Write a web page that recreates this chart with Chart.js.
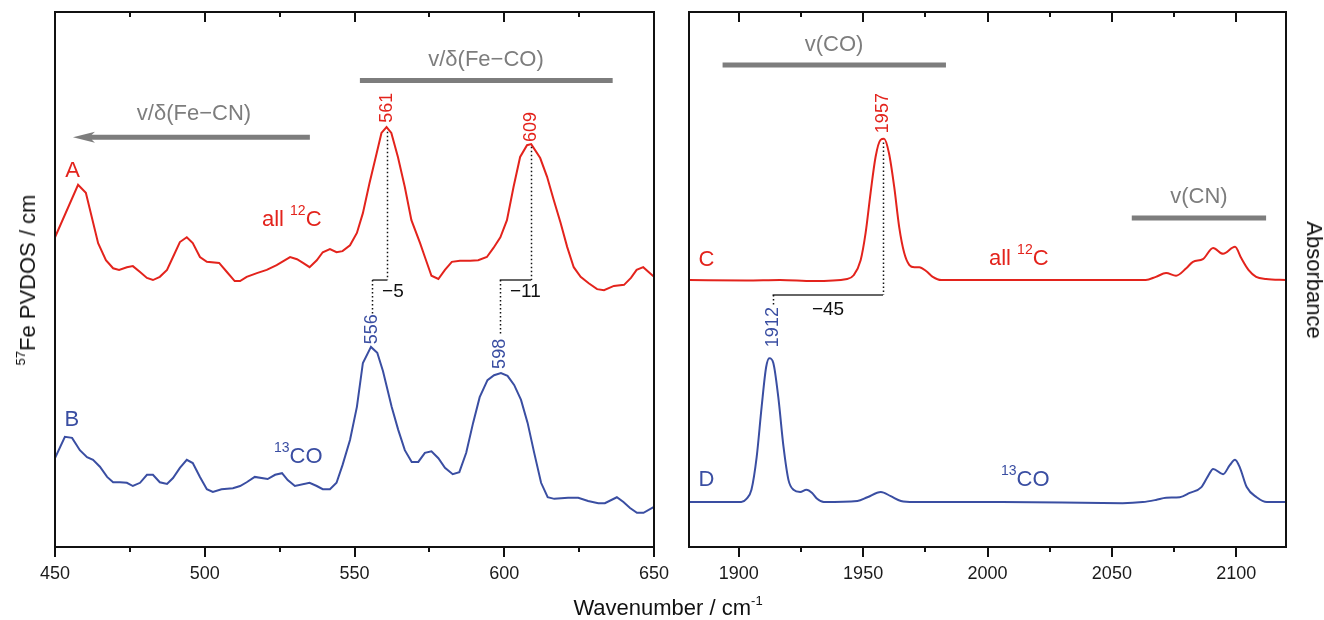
<!DOCTYPE html>
<html>
<head>
<meta charset="utf-8">
<title>57Fe PVDOS and IR spectra</title>
<script src="https://cdn.jsdelivr.net/npm/chart.js@4.4.0/dist/chart.umd.min.js"></script>
<style>
    body { margin: 0; background: #fff; width: 1324px; height: 620px; overflow: hidden; position: relative;
           font-family: 'Liberation Sans', Arial, Helvetica, sans-serif; }
    canvas { position: absolute; top: 0; }
    #left-chart { left: 0; }
    #right-chart { left: 670px; }
    .axis-title { position: absolute; font-size: 22px; color: #111; white-space: nowrap; line-height: 1; }
    .axis-title sup { font-size: 13px; line-height: 0; position: relative; top: -0.15em; vertical-align: super; }
</style>
</head>
<body>
<canvas id="left-chart" width="680" height="620"></canvas>
<canvas id="right-chart" width="654" height="620"></canvas>
<div class="axis-title" style="left:28px; top:280px; transform: translate(-50%,-50%) rotate(-90deg);"><sup>57</sup>Fe PVDOS / cm</div>
<div class="axis-title" style="left:1314px; top:280px; transform: translate(-50%,-50%) rotate(90deg);">Absorbance</div>
<div class="axis-title" style="left:668px; top:608px; transform: translate(-50%,-50%);">Wavenumber / cm<sup>-1</sup></div>
<script>
// Colours and font
const RED = '#e3231c';
const BLUE = '#3a4ea2';
const GREY = '#7d7d7d';
const FONT = "'Liberation Sans', Arial, Helvetica, sans-serif";

// Tick labels
const leftTicks = [450, 500, 550, 600, 650];
const rightTicks = [1900, 1950, 2000, 2050, 2100];

// Spectrum A: 57Fe PVDOS, all 12C
const specAx = [450, 457.7, 460.3, 464.4, 467, 469.4, 471.4, 474, 476, 478.4, 480.7, 482.7, 485, 487.4, 489.4, 491.7, 494, 496, 498.4, 500.7, 504.8, 507.4, 510, 511.8, 514, 517.4, 520.7, 524, 528.5, 530.8, 532.8, 535, 537.4, 539.4, 541.8, 544, 546, 548.5, 550.8, 552.8, 555, 557.4, 559, 560.7, 562.3, 564.5, 566.8, 569, 571.9, 573.5, 575.7, 578, 580.2, 582.5, 585.2, 588.6, 591.3, 594.2, 596.4, 598.7, 600.9, 603.1, 605.3, 607.6, 609, 612, 614.3, 616.5, 618.8, 621, 623.2, 625.5, 628.2, 631, 633.3, 636.6, 640, 642.3, 644.2, 646.4, 648.2, 650];
const specAy = [57.9, 67.7, 66.2, 56.8, 53.6, 52.1, 51.8, 52.3, 52.5, 51.4, 50.3, 49.9, 50.5, 51.8, 54.2, 57.0, 57.9, 56.8, 54.2, 53.3, 53.1, 51.4, 49.7, 49.7, 50.5, 51.2, 51.8, 52.7, 54.2, 53.8, 53.1, 52.3, 53.6, 55.1, 55.7, 55.1, 55.3, 56.4, 58.7, 62.4, 68.0, 73.6, 77.4, 78.5, 77.4, 72.9, 67.3, 61.1, 56.8, 54.2, 50.7, 50.1, 51.8, 53.3, 53.5, 53.5, 53.6, 54.2, 55.9, 57.9, 61.1, 67.3, 72.9, 75.1, 75.3, 72.7, 69.2, 64.9, 60.6, 56.1, 52.3, 50.5, 49.3, 48.2, 48.0, 48.8, 49.0, 50.3, 51.8, 52.3, 51.4, 50.5];

// Spectrum B: 57Fe PVDOS, 13CO
const specBx = [450, 453.3, 455.7, 458.3, 460.7, 462.7, 465, 467.4, 469.4, 471.7, 474, 476, 478.4, 480.7, 482.7, 485, 487.4, 489.4, 491.7, 494, 496, 498.4, 500.7, 502.7, 505.6, 509.4, 511.8, 514, 516.7, 521, 523.5, 525.8, 527.7, 530.1, 535, 537.4, 539.4, 541.8, 544, 546, 548.5, 550.8, 552.8, 555.5, 557.6, 559.5, 562.4, 564.6, 566.8, 569.1, 571.3, 573.5, 575.7, 578, 580.2, 582.8, 585, 587.3, 589.6, 591.8, 594.4, 596.6, 598.9, 601.1, 603.3, 605.6, 607.8, 610, 612.3, 614.5, 616.7, 621.3, 624.7, 628, 631.4, 633.6, 637.6, 639.8, 642, 644.3, 646.5, 650];
const specBy = [16.6, 20.6, 20.4, 18.1, 16.8, 16.3, 15.0, 13.1, 12.1, 12.1, 12.0, 11.4, 12.0, 13.5, 13.5, 12.1, 11.8, 12.9, 14.8, 16.3, 15.7, 13.1, 10.8, 10.3, 10.8, 11.0, 11.4, 12.1, 13.1, 12.7, 13.5, 13.8, 12.5, 11.4, 12.0, 11.4, 10.8, 10.8, 12.0, 15.3, 20.0, 26.2, 34.4, 37.4, 36.3, 32.9, 26.2, 21.9, 18.1, 15.9, 15.9, 17.6, 17.9, 16.6, 14.8, 13.6, 14.0, 17.6, 23.2, 28.0, 31.2, 32.1, 32.5, 32.0, 30.3, 27.5, 23.2, 17.6, 12.0, 9.3, 9.0, 9.2, 9.2, 8.6, 8.2, 8.2, 9.3, 8.4, 7.3, 6.4, 6.4, 7.5];

// Spectrum C: IR absorbance, all 12C
const specCx = [1880, 1903, 1916.6, 1930, 1943.6, 1946.2, 1949, 1951, 1953, 1955, 1957, 1958.4, 1960.4, 1962.5, 1964.5, 1966.5, 1968.6, 1970.6, 1972.6, 1975.3, 1978, 1981.4, 2005.7, 2063.6, 2067.7, 2071.8, 2075.8, 2079.9, 2082.6, 2086.6, 2090.7, 2094.7, 2099.5, 2102, 2104.9, 2108, 2112, 2120];
const specCy = [49.9, 49.8, 49.9, 49.7, 50.1, 50.8, 53.6, 58.7, 66.2, 72.9, 76.1, 76.3, 73.6, 67.3, 59.8, 55.0, 52.7, 52.3, 52.3, 51.6, 50.5, 49.9, 49.9, 49.9, 50.5, 51.2, 50.7, 52.1, 53.3, 53.8, 55.9, 54.8, 56.1, 54.0, 51.8, 50.5, 50.1, 49.9];

// Spectrum D: IR absorbance, 13CO
const specDx = [1880, 1901, 1903.1, 1905.1, 1907.2, 1909.2, 1911, 1912.3, 1913.9, 1915.9, 1918, 1920, 1922, 1924.7, 1927.2, 1929.5, 1931.5, 1934.2, 1947.7, 1951.7, 1957.1, 1961.1, 1965.2, 1970.4, 2005.7, 2054.3, 2062.4, 2067.7, 2071.8, 2077.3, 2081.3, 2086, 2088.7, 2090.7, 2094.7, 2097.4, 2099.5, 2101.5, 2104.2, 2108.2, 2112.3, 2120];
const specDy = [8.4, 8.4, 9.0, 10.7, 16.8, 26.2, 33.6, 35.3, 34.4, 28.0, 18.7, 12.5, 10.7, 10.3, 10.7, 10.1, 9.0, 8.4, 8.6, 9.3, 10.3, 9.5, 8.6, 8.4, 8.4, 8.2, 8.4, 8.8, 9.2, 9.3, 10.1, 11.2, 13.3, 14.6, 13.6, 15.3, 16.3, 14.8, 11.2, 9.3, 8.4, 8.4];

// Annotations (data coordinates)
const leftNotes = [
    { type: 'bar', x1: 551.8, x2: 636.2, y: 87.2 },
    { type: 'text', x: 593.9, y: 91.0, text: [['v/δ(Fe−CO)']], color: GREY, size: 22 },
    { type: 'arrow', x1: 535.1, x2: 456, y: 76.6 },
    { type: 'text', x: 496.4, y: 80.9, text: [['v/δ(Fe−CN)']], color: GREY, size: 22 },
    { type: 'text', x: 455.9, y: 70.3, text: [['A']], color: RED, size: 22 },
    { type: 'text', x: 519.1, y: 61.1, text: [['all '], ['12', 1], ['C']], color: RED, size: 22, align: 'left' },
    { type: 'text', x: 455.6, y: 23.7, text: [['B']], color: BLUE, size: 22 },
    { type: 'text', x: 523.1, y: 16.8, text: [['13', 1], ['CO']], color: BLUE, size: 22, align: 'left' },
    { type: 'vtext', x: 561, y: 82.1, text: '561', color: RED },
    { type: 'vtext', x: 609, y: 78.5, text: '609', color: RED },
    { type: 'vtext', x: 556, y: 40.7, text: '556', color: BLUE },
    { type: 'vtext', x: 598.5, y: 36.1, text: '598', color: BLUE },
    { type: 'dots', x: 561, y1: 77.6, y2: 49.9 },
    { type: 'dots', x: 609, y1: 74.8, y2: 49.9 },
    { type: 'seg', x1: 556, x2: 561, y: 49.9 },
    { type: 'seg', x1: 598.5, x2: 609, y: 49.9 },
    { type: 'dots', x: 556, y1: 49.9, y2: 43.6 },
    { type: 'dots', x: 598.5, y1: 49.9, y2: 39.8 },
    { type: 'text', x: 559.2, y: 47.7, text: [['−5']], color: '#111', size: 19, align: 'left' },
    { type: 'text', x: 601.9, y: 47.7, text: [['−11']], color: '#111', size: 19, align: 'left' }
];

const rightNotes = [
    { type: 'bar', x1: 1893.5, x2: 1983.3, y: 90.1 },
    { type: 'text', x: 1938.3, y: 93.8, text: [['v(CO)']], color: GREY, size: 22 },
    { type: 'bar', x1: 2058, x2: 2112, y: 61.5 },
    { type: 'text', x: 2085, y: 65.5, text: [['v(CN)']], color: GREY, size: 22 },
    { type: 'text', x: 1887, y: 53.7, text: [['C']], color: RED, size: 22 },
    { type: 'text', x: 2000.6, y: 53.8, text: [['all '], ['12', 1], ['C']], color: RED, size: 22, align: 'left' },
    { type: 'text', x: 1887, y: 12.5, text: [['D']], color: BLUE, size: 22 },
    { type: 'text', x: 2005.4, y: 12.5, text: [['13', 1], ['CO']], color: BLUE, size: 22, align: 'left' },
    { type: 'vtext', x: 1958, y: 81.1, text: '1957', color: RED },
    { type: 'vtext', x: 1913.6, y: 41.1, text: '1912', color: BLUE },
    { type: 'dots', x: 1958, y1: 75.6, y2: 47.1 },
    { type: 'seg', x1: 1913.6, x2: 1958, y: 47.1 },
    { type: 'dots', x: 1913.6, y1: 47.1, y2: 45.2 },
    { type: 'text', x: 1935.9, y: 44.3, text: [['−45']], color: '#111', size: 19 }
];

// Frame, inward/outward tick marks and annotations
const notesPlugin = {
    id: 'notes',
    afterDatasetsDraw(chart, args, opts) {
        const { ctx, chartArea: area, scales: { x, y } } = chart;
        const px = v => x.getPixelForValue(v);
        const py = v => y.getPixelForValue(v);

        ctx.save();
        ctx.strokeStyle = '#111';
        ctx.lineWidth = 2;
        ctx.strokeRect(area.left, area.top, area.right - area.left, area.bottom - area.top);
        const first = Math.ceil(x.min / 25) * 25;
        for (let v = first; v <= x.max; v += 25) {
            const len = v % 50 === 0 ? 10 : 5;
            const xp = Math.round(px(v));
            ctx.beginPath();
            ctx.moveTo(xp, area.bottom);
            ctx.lineTo(xp, area.bottom + len);
            ctx.moveTo(xp, area.top);
            ctx.lineTo(xp, area.top + len);
            ctx.stroke();
        }
        ctx.restore();

        opts.items.forEach(it => {
            ctx.save();
            if (it.type === 'bar' || it.type === 'arrow') {
                ctx.strokeStyle = GREY;
                ctx.fillStyle = GREY;
                ctx.lineWidth = 5;
                const yp = py(it.y);
                const head = it.type === 'arrow' ? 22 : 0;
                const dir = Math.sign(px(it.x2) - px(it.x1));
                ctx.beginPath();
                ctx.moveTo(px(it.x1), yp);
                ctx.lineTo(px(it.x2) - dir * head * 0.7, yp);
                ctx.stroke();
                if (head) {
                    const tip = px(it.x2);
                    ctx.beginPath();
                    ctx.moveTo(tip, yp);
                    ctx.lineTo(tip - dir * head, yp - 5.5);
                    ctx.quadraticCurveTo(tip - dir * head * 0.65, yp, tip - dir * head, yp + 5.5);
                    ctx.closePath();
                    ctx.fill();
                }
            } else if (it.type === 'text') {
                const big = it.size;
                const small = Math.round(big * 0.62);
                const parts = it.text.map(p => {
                    const sup = !!p[1];
                    ctx.font = `${sup ? small : big}px ${FONT}`;
                    return { t: p[0], sup, w: ctx.measureText(p[0]).width };
                });
                const total = parts.reduce((a, p) => a + p.w, 0);
                let xp = it.align === 'left' ? px(it.x) : px(it.x) - total / 2;
                const yp = py(it.y);
                ctx.fillStyle = it.color;
                ctx.textBaseline = 'middle';
                ctx.textAlign = 'left';
                parts.forEach(p => {
                    ctx.font = `${p.sup ? small : big}px ${FONT}`;
                    ctx.fillText(p.t, xp, p.sup ? yp - big * 0.4 : yp);
                    xp += p.w;
                });
            } else if (it.type === 'vtext') {
                ctx.translate(px(it.x), py(it.y));
                ctx.rotate(-Math.PI / 2);
                ctx.font = `18px ${FONT}`;
                ctx.fillStyle = it.color;
                ctx.textAlign = 'center';
                ctx.textBaseline = 'middle';
                ctx.fillText(it.text, 0, 0);
            } else if (it.type === 'dots') {
                ctx.strokeStyle = '#111';
                ctx.lineWidth = 1.5;
                ctx.setLineDash([1.5, 2.5]);
                const xp = Math.round(px(it.x)) + 0.5;
                ctx.beginPath();
                ctx.moveTo(xp, py(it.y1));
                ctx.lineTo(xp, py(it.y2));
                ctx.stroke();
            } else if (it.type === 'seg') {
                ctx.strokeStyle = '#333';
                ctx.lineWidth = 1.5;
                ctx.beginPath();
                ctx.moveTo(px(it.x1), py(it.y));
                ctx.lineTo(px(it.x2), py(it.y));
                ctx.stroke();
            }
            ctx.restore();
        });
    }
};

function toPoints(xs, ys) {
    return xs.map((x, i) => ({ x: x, y: ys[i] }));
}

function makeChart(canvasId, series, range, ticks, notes, padding, smooth) {
    return new Chart(document.getElementById(canvasId), {
        type: 'line',
        data: {
            datasets: series.map(s => ({
                data: toPoints(s.x, s.y),
                borderColor: s.color,
                borderWidth: 2,
                pointRadius: 0,
                fill: false,
                tension: smooth ? 0.4 : 0,
                cubicInterpolationMode: smooth ? 'monotone' : 'default'
            }))
        },
        options: {
            responsive: false,
            animation: false,
            devicePixelRatio: 1,
            layout: { padding: padding },
            plugins: {
                legend: { display: false },
                tooltip: { enabled: false },
                notes: { items: notes }
            },
            scales: {
                x: {
                    type: 'linear',
                    min: range[0],
                    max: range[1],
                    afterBuildTicks: s => { s.ticks = ticks.map(v => ({ value: v })); },
                    afterFit: s => {
                        s.height = 40;
                        s.paddingLeft = 0;
                        s.paddingRight = 0;
                    },
                    grid: { display: false, drawTicks: false },
                    border: { display: false },
                    ticks: {
                        padding: 16,
                        color: '#1a1a1a',
                        font: { size: 18, family: FONT },
                        maxRotation: 0,
                        autoSkip: false,
                        callback: v => String(v)
                    }
                },
                y: { display: false, min: 0, max: 100 }
            }
        },
        plugins: [notesPlugin]
    });
}

makeChart('left-chart',
    [{ x: specAx, y: specAy, color: RED }, { x: specBx, y: specBy, color: BLUE }],
    [450, 650], leftTicks, leftNotes,
    { left: 55, right: 26, top: 12, bottom: 33 }, false);

makeChart('right-chart',
    [{ x: specCx, y: specCy, color: RED }, { x: specDx, y: specDy, color: BLUE }],
    [1880, 2120], rightTicks, rightNotes,
    { left: 19, right: 38, top: 12, bottom: 33 }, true);
</script>
</body>
</html>
